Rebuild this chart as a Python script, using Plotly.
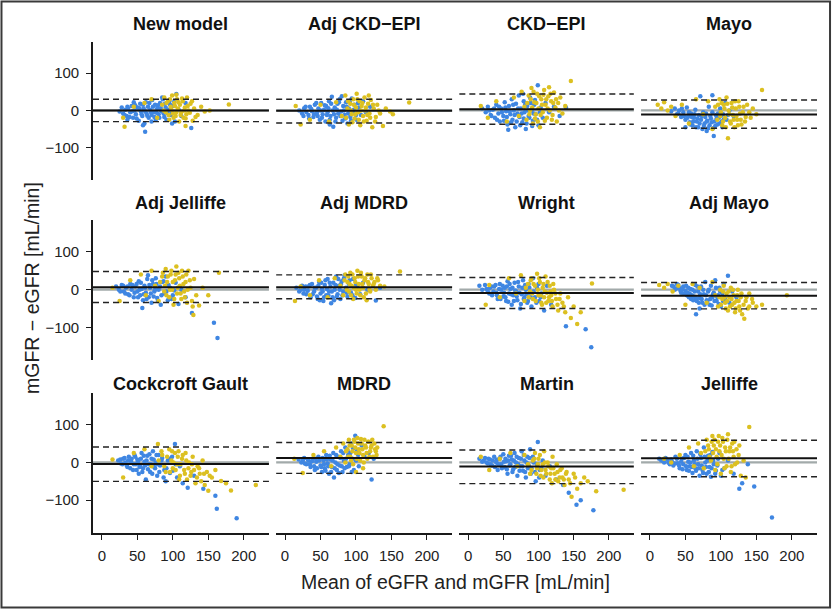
import plotly.graph_objects as go
from plotly.subplots import make_subplots

# Bland-Altman plots: mGFR - eGFR vs mean of eGFR and mGFR, one panel per equation

titles = ["New model", "Adj CKD\u2212EPI", "CKD\u2212EPI", "Mayo",
          "Adj Jelliffe", "Adj MDRD", "Wright", "Adj Mayo",
          "Cockcroft Gault", "MDRD", "Martin", "Jelliffe"]

# mean difference and limits of agreement
bias = [0, -1, 3, -11, 6, 6, -9, -16, -4, 12, -11, 11]
upper_loa = [30, 30, 44, 28, 48, 39, 32, 19, 41, 53, 33, 59]
lower_loa = [-30, -34, -37, -48, -34, -24, -50, -51, -50, -29, -56, -38]

# points (mean, difference), blue and yellow groups, estimated from the figure
new_model_blue = [(25,-3),(28,8),(30,-8),(33,2),(35,-15),(37,5),(40,-5),(42,12),(44,-20),(46,0),(48,-10),(50,8),(52,-28),(54,18),(55,-3),(57,-15),(59,5),(60,-35),(62,22),(63,-8),(65,10),(66,-20),(68,2),(70,-12),(71,28),(73,-5),(75,15),(76,-25),(78,5),(80,-10),(82,20),(84,-2),(86,30),(88,-18),(90,8),(92,-6),(95,25),(97,-12),(100,12),(103,-30),(105,44),(108,3),(112,-15),(118,20),(126,-47),(61,-57),(45,22),(58,-40),(85,35),(99,-35),
                  (32,-12),(36,10),(39,-18),(43,-2),(47,14),(49,-22),(53,6),(56,-10),(58,15),(61,-2),(64,-14),(67,20),(69,-4),(72,10),(74,-18),(77,-6),(79,14),(81,-20),(83,6),(87,-8),(89,18),(91,-25),(94,2),(96,16),(98,-4),(102,24),(36,-25),(70,-30)]
new_model_yellow = [(32,-44),(30,-20),(45,10),(60,20),(70,30),(78,-20),(85,15),(88,35),(90,-5),(93,25),(95,-25),(97,10),(99,40),(100,-8),(102,20),(104,-15),(106,30),(107,5),(109,-30),(110,15),(112,-5),(114,25),(115,-20),(117,8),(119,-10),(120,35),(122,0),(125,18),(128,-28),(130,5),(135,-12),(140,10),(145,-3),(152,0),(179,16),(118,-42),(105,42),
                    (87,0),(91,20),(94,-12),(96,30),(98,2),(101,-20),(103,12),(105,-5),(108,22),(111,-12),(113,32),(116,0),(118,-22),(121,12),(124,-6),(127,25),(132,-18)]

adj_ckd_blue = [(20,0),(24,-8),(27,6),(30,-4),(33,-12),(35,10),(38,-2),(40,-18),(42,15),(45,-6),(47,5),(49,-25),(51,20),(53,-10),(55,2),(57,-30),(58,12),(60,-5),(62,25),(64,-15),(66,37),(67,0),(68,-44),(70,8),(72,-20),(74,18),(75,-8),(77,30),(79,-3),(81,-28),(82,12),(84,-12),(86,22),(88,-35),(90,5),(92,-18),(94,32),(96,-6),(98,15),(101,-25),(104,8),(107,-12),(110,25),(114,-5),(120,10),(63,-38),(80,38),
                (26,-15),(29,10),(34,-22),(37,4),(41,-10),(44,20),(46,-15),(50,0),(52,-20),(56,14),(59,-12),(61,6),(63,-25),(65,18),(69,-10),(71,-30),(73,2),(76,22),(78,-15),(83,0),(85,-22),(87,10),(89,-8),(91,25),(93,-28),(97,2),(100,-12),(103,20)]
adj_ckd_yellow = [(15,12),(22,-38),(35,-25),(50,15),(62,-30),(72,22),(80,-15),(85,40),(88,5),(90,-38),(92,18),(94,-10),(96,30),(98,-22),(100,8),(101,45),(103,-5),(105,25),(106,-40),(108,12),(110,-15),(112,35),(113,0),(115,-28),(117,18),(119,-8),(121,28),(123,-45),(125,5),(128,-18),(130,15),(134,-8),(138,-42),(142,5),(148,-3),(152,-10),(175,21),
                  (86,-20),(89,25),(93,0),(95,-32),(97,15),(99,-10),(102,30),(104,-25),(107,0),(109,20),(111,-30),(114,8),(116,-12),(118,40),(120,-20),(124,15),(127,-30),(132,0)]

ckd_blue = [(20,5),(25,-5),(28,10),(32,-12),(35,2),(38,-20),(40,15),(43,-8),(45,-30),(47,5),(50,-15),(52,22),(54,-2),(56,-38),(58,12),(60,-10),(62,30),(63,-25),(65,0),(67,-45),(68,18),(70,-8),(72,40),(73,-18),(75,5),(77,-32),(79,25),(80,-5),(82,-50),(84,12),(86,-15),(88,35),(90,0),(92,-28),(94,15),(96,-10),(99,68),(100,-40),(103,8),(106,-20),(110,20),(115,-5),(122,10),(130,-15),(139,8),(78,45),(57,-52),
            (30,0),(33,-15),(37,5),(41,-25),(44,10),(48,-5),(51,-28),(53,8),(55,-18),(59,-2),(61,-32),(64,15),(66,-12),(69,-30),(71,5),(74,-40),(76,-8),(79,-22),(81,15),(83,-35),(85,0),(87,-20),(89,20),(91,-42),(93,-8),(95,28),(98,-25),(102,-5)]
ckd_yellow = [(18,12),(28,-20),(40,25),(55,-30),(65,35),(72,-15),(76,50),(80,10),(83,-25),(86,40),(88,0),(90,60),(92,-35),(94,22),(96,-10),(98,45),(100,5),(102,-45),(104,30),(106,-5),(108,55),(110,15),(112,-20),(114,38),(116,0),(118,25),(120,-12),(122,48),(124,8),(126,-30),(128,20),(131,35),(134,-8),(138,12),(146,79),(115,62),
              (84,20),(87,-10),(89,30),(91,8),(93,50),(95,-22),(97,20),(99,-30),(101,38),(103,-12),(105,15),(107,42),(109,-28),(111,30),(113,5),(117,45),(119,-25),(121,20),(125,30),(129,0)]

mayo_blue = [(30,-2),(35,5),(38,-10),(41,0),(44,-18),(47,-5),(50,-25),(52,8),(54,-15),(56,-32),(58,-8),(60,-40),(62,-20),(64,2),(66,-30),(68,-45),(69,-12),(71,38),(72,-25),(74,-50),(75,-5),(77,-35),(78,-18),(80,-55),(81,-28),(83,10),(84,-40),(86,-22),(88,41),(89,-48),(90,-69),(91,-30),(93,-12),(95,-38),(97,-20),(99,5),(101,-30),(103,-10),(106,20),(108,-25),(112,0),(118,-15),(50,-45),
             (40,-8),(45,5),(48,-15),(53,-20),(55,-5),(57,-38),(59,-18),(61,-30),(63,-10),(65,-45),(67,-22),(70,-35),(73,-15),(76,-42),(79,-8),(80,-30),(82,-48),(85,-15),(87,-32),(88,-5),(92,-42),(94,-22),(96,-8),(98,-35),(100,-15),(102,-45),(104,-25),(110,-12)]
mayo_yellow = [(11,15),(16,5),(20,22),(25,0),(30,10),(36,-15),(45,15),(55,-35),(65,30),(75,-10),(82,25),(88,-50),(92,10),(95,-25),(98,30),(100,-5),(102,-40),(104,15),(106,-20),(108,35),(110,-75),(111,0),(113,-30),(115,20),(117,-12),(119,-45),(121,5),(123,-25),(125,25),(127,-8),(129,-38),(132,10),(135,-18),(140,-5),(145,5),(150,-10),(158,55),
               (96,15),(99,-15),(101,20),(103,-30),(105,5),(107,-45),(109,18),(112,-10),(114,-35),(116,8),(118,-25),(120,25),(122,-15),(124,-40),(126,10),(128,-25),(131,-5),(134,-30),(137,15),(142,-20)]

adj_jelliffe_blue = [(20,8),(24,0),(28,12),(31,-5),(34,5),(37,-12),(40,15),(42,0),(45,-20),(47,8),(50,-5),(52,22),(54,-15),(56,2),(57,-49),(58,-28),(60,10),(62,-8),(64,28),(66,-20),(68,5),(70,-35),(72,15),(74,-5),(76,30),(78,-22),(80,0),(83,-40),(85,20),(88,-10),(90,35),(93,-28),(96,5),(100,-15),(104,18),(108,-38),(112,0),(118,-20),(127,-62),(158,-88),(163,-128),(65,38),
                     (26,-5),(30,10),(33,-10),(36,8),(39,-15),(43,12),(46,-8),(49,15),(51,-20),(53,0),(55,18),(59,-12),(61,5),(63,-25),(67,12),(69,-10),(71,25),(73,-18),(75,0),(77,15),(79,-30),(82,8),(84,-15),(87,22),(91,-5),(94,12),(98,-25),(102,-2)]
adj_jelliffe_yellow = [(15,5),(25,-30),(40,25),(55,40),(62,-15),(70,50),(75,10),(80,-30),(85,35),(88,-5),(90,55),(92,20),(95,-20),(97,40),(99,0),(101,-40),(103,25),(105,61),(106,-10),(108,45),(110,10),(112,-25),(114,35),(116,-5),(118,20),(120,-35),(122,50),(125,5),(128,-45),(130,28),(133,-15),(137,-42),(142,5),(150,-15),(129,-67),(165,45),
                       (82,20),(86,45),(89,10),(91,-15),(93,35),(96,0),(98,50),(100,20),(102,-25),(104,40),(107,5),(109,30),(111,-10),(113,50),(115,15),(117,-20),(119,40),(121,0),(124,25),(127,-30)]

adj_mdrd_blue = [(16,5),(20,-5),(24,10),(27,0),(30,-12),(33,8),(36,-20),(38,15),(41,-5),(44,5),(46,-25),(48,20),(50,-10),(52,2),(54,-30),(56,12),(58,-15),(60,28),(62,-5),(64,8),(65,-36),(67,-20),(68,18),(70,0),(72,35),(74,-12),(76,10),(78,-25),(80,22),(82,-5),(84,38),(86,5),(88,-18),(90,15),(93,-8),(96,28),(99,-22),(102,5),(106,-12),(110,18),(116,0),(128,-29),(134,5),
                 (22,0),(26,-10),(29,8),(32,-3),(35,12),(39,-12),(42,5),(45,-18),(47,10),(49,-28),(51,18),(53,-5),(55,-20),(57,25),(59,2),(61,-15),(63,18),(66,-5),(69,-28),(71,12),(73,-18),(75,28),(77,0),(79,15),(81,-15),(83,30),(87,-8),(91,25),(95,-15),(100,12)]
adj_mdrd_yellow = [(14,-30),(22,8),(35,-15),(48,25),(60,-20),(70,30),(78,10),(82,-15),(85,40),(88,20),(90,-5),(92,45),(94,10),(96,-25),(98,30),(100,0),(102,50),(104,15),(106,-15),(108,35),(110,5),(112,25),(114,-10),(116,40),(118,15),(120,-5),(122,30),(124,10),(126,20),(128,0),(131,25),(134,10),(140,8),(162,48),(115,-28),
                   (84,25),(87,0),(89,35),(91,15),(93,-15),(95,40),(97,5),(99,20),(101,-10),(103,35),(105,0),(107,45),(109,15),(111,-20),(113,30),(117,20),(119,0),(121,40),(125,15),(130,30)]

wright_blue = [(16,10),(20,0),(24,12),(28,-5),(31,5),(34,-15),(37,8),(40,-8),(42,-25),(45,15),(47,0),(50,-18),(52,5),(54,-30),(56,22),(58,-10),(60,2),(62,-40),(64,-15),(66,18),(68,-5),(70,-28),(72,8),(74,-50),(76,-12),(78,25),(80,-20),(82,0),(84,-35),(86,15),(88,-8),(90,-45),(92,30),(95,-20),(98,5),(101,-30),(104,-10),(108,-55),(112,10),(118,-40),(139,-97),(167,-105),(175,-153),
               (26,2),(30,-10),(33,8),(36,-5),(39,12),(41,-15),(44,2),(46,-25),(49,10),(51,-8),(53,-20),(55,8),(57,-32),(59,15),(61,-12),(63,5),(65,-30),(67,-2),(69,-18),(71,20),(73,-8),(75,-38),(77,5),(79,-25),(81,12),(83,-12),(85,-30),(87,5),(89,-20),(93,-5),(97,-35),(100,15),(103,-20)]
wright_yellow = [(25,-40),(30,12),(45,-20),(58,30),(68,-10),(75,38),(80,-30),(85,15),(88,-5),(90,30),(92,-25),(95,10),(98,42),(100,-15),(102,20),(104,-35),(106,5),(108,-20),(110,35),(112,-8),(114,-30),(116,10),(118,-15),(120,-45),(122,0),(125,-25),(128,-55),(131,-10),(134,-35),(138,-60),(142,-20),(146,-75),(150,-45),(155,-91),(176,16),(160,-60),
                 (82,5),(86,-20),(89,25),(91,-10),(93,15),(96,-30),(99,0),(101,30),(103,-15),(105,-40),(107,15),(109,-5),(111,-35),(113,20),(115,-20),(117,-5),(119,-30),(121,15),(124,-10),(127,-40),(130,-25),(136,-45)]

adj_mayo_blue = [(31,10),(35,0),(38,15),(41,5),(44,-8),(47,8),(50,-3),(52,-15),(54,5),(56,-10),(58,-25),(60,0),(62,-18),(64,12),(65,-65),(66,-30),(68,-5),(70,-22),(72,8),(74,-35),(76,-12),(78,20),(80,-28),(82,-5),(84,-40),(86,10),(88,-20),(90,-8),(92,25),(94,-30),(96,-15),(98,5),(100,-45),(102,-10),(104,15),(106,-25),(110,37),(112,-35),(116,-5),(122,-20),(70,-50),
                 (33,8),(37,3),(40,12),(43,-3),(46,2),(48,-10),(51,10),(53,-8),(55,-20),(57,2),(59,-15),(61,-28),(63,-5),(65,-22),(67,8),(69,-35),(71,-12),(73,-25),(75,0),(77,-40),(79,-15),(81,-30),(83,0),(85,-25),(87,-42),(89,-12),(91,-30),(93,5),(95,-20),(97,-38),(99,-5),(103,-30)]
adj_mayo_yellow = [(13,12),(20,5),(25,15),(32,-5),(40,10),(50,-40),(60,15),(70,5),(80,-35),(88,20),(92,-15),(96,-45),(99,0),(102,-25),(104,10),(106,-35),(108,-10),(110,-55),(112,-20),(114,5),(116,-40),(118,-15),(120,-60),(122,-30),(124,0),(126,-45),(128,-20),(130,-65),(133,-77),(135,-30),(138,-50),(140,-10),(145,-35),(150,-45),(158,-40),(193,-15),
                   (98,-20),(100,-40),(103,-5),(105,-20),(107,-50),(109,-30),(111,-5),(113,-45),(115,-25),(117,0),(119,-35),(121,-50),(123,-15),(125,-30),(127,-55),(129,-10),(132,-40),(136,-20),(140,-45),(144,-25)]

cockcroft_blue = [(23,5),(27,-3),(30,10),(33,0),(36,-12),(38,15),(41,3),(44,-20),(46,20),(48,-5),(50,8),(52,-30),(54,-8),(56,25),(58,-15),(60,2),(62,-45),(64,18),(66,-5),(68,-25),(70,10),(72,30),(74,-12),(76,0),(78,-35),(80,20),(82,-8),(85,12),(88,-20),(90,-50),(93,5),(96,-28),(99,15),(103,49),(106,-40),(110,-10),(114,-55),(121,-67),(130,-35),(143,-70),(160,-88),(162,-123),(190,-148),
                  (26,8),(29,-5),(32,12),(35,-8),(37,5),(40,-15),(42,10),(45,-5),(47,15),(49,-20),(51,3),(53,-12),(55,10),(57,-25),(59,18),(61,-8),(63,5),(65,-18),(67,22),(69,-5),(71,-30),(73,8),(75,-15),(77,20),(79,-5),(81,-25),(84,5),(87,-40),(91,-15),(95,10),(100,-22),(104,-5)]
cockcroft_yellow = [(15,8),(30,-40),(45,25),(60,35),(70,-10),(79,49),(85,20),(90,-25),(95,35),(98,5),(100,-15),(103,25),(106,-5),(108,30),(110,-35),(113,10),(116,-20),(118,25),(120,-45),(123,0),(126,-25),(128,15),(132,-55),(135,-10),(138,-30),(142,5),(145,-60),(148,-25),(150,-75),(155,-40),(160,-20),(168,-49),(175,-55),(182,-74),(217,-60),
                    (80,5),(84,30),(88,-10),(92,15),(96,-25),(99,30),(101,0),(104,-20),(107,15),(109,-45),(111,-5),(114,20),(117,-30),(119,5),(122,-15),(125,-35),(127,-5),(130,-20),(134,-40),(137,-15),(140,-50),(144,-30),(152,-35)]

mdrd_blue = [(19,8),(23,0),(27,12),(30,-5),(33,5),(36,-12),(39,10),(42,-20),(44,2),(47,15),(50,-8),(52,-25),(54,5),(56,-15),(58,20),(60,-3),(62,-30),(64,8),(66,-12),(68,25),(69,-40),(71,0),(73,-20),(75,15),(77,-8),(79,30),(81,-25),(83,5),(85,40),(87,-12),(89,20),(91,-5),(93,50),(95,10),(97,-20),(99,71),(101,30),(104,-10),(108,45),(112,15),(118,25),(122,-45),(125,10),
             (25,5),(28,-3),(32,8),(35,-5),(38,3),(41,-10),(43,10),(45,-15),(48,5),(51,-12),(53,12),(55,-5),(57,-22),(59,8),(61,-10),(63,18),(65,-25),(67,5),(70,-15),(72,20),(74,-5),(76,-28),(78,12),(80,-10),(82,25),(84,-15),(86,10),(88,32),(90,-10),(92,25),(94,-25),(96,38),(100,5),(103,20)]
mdrd_yellow = [(13,10),(25,-28),(40,20),(55,30),(65,-10),(72,40),(78,15),(82,50),(85,0),(88,35),(90,60),(92,15),(94,45),(96,-5),(98,55),(100,25),(102,65),(104,35),(106,5),(108,50),(110,20),(112,60),(114,40),(116,10),(118,55),(120,30),(122,45),(124,15),(126,50),(128,30),(130,40),(100,-25),(139,96),(110,-15),
               (86,30),(89,15),(91,45),(93,5),(95,30),(97,60),(99,40),(101,10),(103,50),(105,25),(107,62),(109,35),(111,0),(113,45),(115,25),(117,55),(119,15),(121,40),(123,60),(127,35),(129,20)]

martin_blue = [(16,10),(20,2),(24,12),(28,-3),(31,8),(34,-8),(37,15),(40,0),(42,-20),(45,10),(47,-5),(50,22),(52,-12),(54,3),(56,-30),(58,18),(60,-5),(62,8),(64,-18),(66,25),(68,0),(70,-35),(72,12),(74,-10),(76,30),(78,-22),(80,5),(82,-40),(84,15),(86,-8),(88,35),(90,-15),(93,0),(96,-50),(99,54),(102,-20),(106,5),(110,-35),(116,-10),(125,-45),(135,-60),(143,-80),(154,-112),(160,-100),(178,-127),
               (22,5),(26,0),(29,10),(32,-5),(35,5),(38,-12),(41,8),(43,-5),(46,15),(48,-15),(51,2),(53,10),(55,-18),(57,5),(59,-8),(61,18),(63,-25),(65,5),(67,-12),(69,15),(71,-5),(73,-22),(75,10),(77,-10),(79,20),(81,-25),(83,0),(85,-15),(87,12),(89,-30),(92,15),(95,-25),(98,-5),(101,-40),(104,-15)]
martin_yellow = [(18,15),(30,-20),(45,10),(60,25),(70,-10),(80,20),(88,-30),(92,5),(95,25),(98,-15),(100,10),(103,-35),(106,-5),(108,30),(110,-20),(113,0),(116,-45),(118,-15),(120,15),(123,-30),(126,-5),(128,-50),(131,-20),(134,-40),(137,-60),(140,-25),(143,-45),(147,-91),(150,-30),(155,-70),(160,-55),(170,-50),(182,-76),(221,-72),(165,-40),
                 (85,-5),(90,-20),(94,10),(97,-30),(99,-5),(102,20),(104,-20),(107,-40),(109,0),(111,-30),(114,-10),(117,-30),(119,-55),(121,-15),(124,-45),(127,-25),(130,-40),(133,-15),(136,-45),(139,-30),(145,-55),(152,-40)]

jelliffe_blue = [(13,10),(18,5),(22,12),(26,0),(30,8),(33,-8),(36,15),(39,-2),(42,-15),(45,10),(47,-5),(50,20),(52,-20),(54,2),(56,-10),(58,25),(60,-28),(62,5),(64,-15),(66,30),(68,-5),(70,-35),(72,12),(74,-20),(76,40),(78,0),(80,-30),(82,18),(84,-12),(86,-38),(88,28),(90,-5),(93,-22),(96,10),(100,-35),(105,-15),(110,5),(118,-30),(126,-70),(130,-55),(147,-64),(172,-146),(138,-5),
                 (16,5),(20,0),(24,8),(28,-5),(31,2),(35,-3),(38,10),(41,-8),(44,2),(46,-18),(48,12),(51,-10),(53,15),(55,-22),(57,0),(59,-12),(61,18),(63,-5),(65,-22),(67,10),(69,-15),(71,22),(73,-8),(75,-28),(77,15),(79,-12),(81,5),(83,-25),(85,20),(87,-15),(89,5),(92,-30),(95,-8),(98,25),(102,-20)]
jelliffe_yellow = [(20,10),(30,0),(42,20),(55,40),(62,-10),(68,50),(72,25),(76,-15),(80,60),(83,35),(86,5),(88,70),(90,45),(92,-20),(94,15),(96,55),(98,30),(100,-30),(102,65),(104,10),(106,40),(108,-10),(110,75),(112,30),(114,-25),(116,50),(118,15),(120,-5),(122,35),(125,20),(128,-35),(132,5),(140,94),(135,-40),
                   (78,30),(82,45),(84,15),(87,55),(89,25),(91,60),(93,35),(95,-5),(97,70),(99,45),(101,20),(103,55),(105,-15),(107,30),(109,60),(111,10),(113,40),(115,-10),(117,30),(119,55),(123,0),(126,45)]

blue_sets = [new_model_blue, adj_ckd_blue, ckd_blue, mayo_blue,
             adj_jelliffe_blue, adj_mdrd_blue, wright_blue, adj_mayo_blue,
             cockcroft_blue, mdrd_blue, martin_blue, jelliffe_blue]
yellow_sets = [new_model_yellow, adj_ckd_yellow, ckd_yellow, mayo_yellow,
               adj_jelliffe_yellow, adj_mdrd_yellow, wright_yellow, adj_mayo_yellow,
               cockcroft_yellow, mdrd_yellow, martin_yellow, jelliffe_yellow]

BLUE = "#3f86e2"
YELLOW = "#dcc021"
FONT = "Liberation Sans, Arial, sans-serif"

fig = make_subplots(rows=3, cols=4)

col_dom = [(0.0, 0.243), (0.253, 0.496), (0.506, 0.747), (0.757, 1.0)]
row_dom = [(0.719, 1.0), (0.352, 0.637), (0.0, 0.285)]
title_y = [1.037, 0.672, 0.303]

for i in range(12):
    r, c = i // 4, i % 4
    n = i + 1
    sfx = "" if n == 1 else str(n)

    for pts, col in ((blue_sets[i], BLUE), (yellow_sets[i], YELLOW)):
        fig.add_trace(go.Scatter(
            x=[p[0] for p in pts], y=[p[1] for p in pts], mode="markers",
            marker=dict(color=col, size=4.5, line=dict(width=0)),
            showlegend=False, hoverinfo="skip"), row=r + 1, col=c + 1)

    xr, yr = "x" + sfx + " domain", "y" + sfx
    fig.add_shape(type="line", xref=xr, yref=yr, x0=0, x1=1, y0=0, y1=0,
                  line=dict(color="#a2aaaa", width=2.2), layer="below")
    fig.add_shape(type="line", xref=xr, yref=yr, x0=0, x1=1, y0=bias[i], y1=bias[i],
                  line=dict(color="#111111", width=2))
    for v in (upper_loa[i], lower_loa[i]):
        fig.add_shape(type="line", xref=xr, yref=yr, x0=0, x1=1, y0=v, y1=v,
                      line=dict(color="#222222", width=1.4, dash="6px,4px"))

    show_y = c == 0
    show_x = r == 2
    fig.layout["xaxis" + sfx].update(
        domain=col_dom[c], range=[-12.5, 235.5], showgrid=False, zeroline=False,
        showline=show_x, linecolor="#1a1a1a", linewidth=1.6,
        ticks="outside" if show_x else "", ticklen=5, tickwidth=1.2, tickcolor="#1a1a1a",
        showticklabels=show_x, tickvals=[0, 50, 100, 150, 200],
        tickfont=dict(family=FONT, size=15, color="#222222"), ticklabelstandoff=3)
    fig.layout["yaxis" + sfx].update(
        domain=row_dom[r], range=[-187, 184], showgrid=False, zeroline=False,
        showline=show_y, linecolor="#1a1a1a", linewidth=1.6,
        ticks="outside" if show_y else "", ticklen=5, tickwidth=1.2, tickcolor="#1a1a1a",
        showticklabels=show_y, tickvals=[-100, 0, 100],
        ticktext=["\u2212100", "0", "100"],
        tickfont=dict(family=FONT, size=15, color="#222222"), ticklabelstandoff=4)

    fig.add_annotation(text="<b>" + titles[i] + "</b>", xref="paper", yref="paper",
                       x=sum(col_dom[c]) / 2, y=title_y[r],
                       showarrow=False, xanchor="center", yanchor="middle",
                       font=dict(family=FONT, size=18, color="#111111"))

fig.add_annotation(text="Mean of eGFR and mGFR [mL/min]", xref="paper", yref="paper",
                   x=0.5, y=-0.1, showarrow=False, xanchor="center", yanchor="middle",
                   font=dict(family=FONT, size=19.5, color="#222222"))
fig.add_annotation(text="mGFR \u2212 eGFR [mL/min]", xref="paper", yref="paper",
                   x=-0.0843, y=0.499, textangle=-90, showarrow=False,
                   xanchor="center", yanchor="middle",
                   font=dict(family=FONT, size=19.5, color="#222222"))

# frame around the whole picture
fig.add_shape(type="rect", xref="paper", yref="paper",
              x0=-0.1264, x1=1.0180, y0=-0.1517, y1=1.0825,
              line=dict(color="#3a3a3a", width=2), fillcolor="rgba(0,0,0,0)")

fig.update_layout(width=832, height=609, plot_bgcolor="white", paper_bgcolor="white",
                  margin=dict(l=93, r=15, t=42, b=76))

fig.write_html("out.html", config={"displayModeBar": False},
               post_script="document.body.style.margin='0';")
